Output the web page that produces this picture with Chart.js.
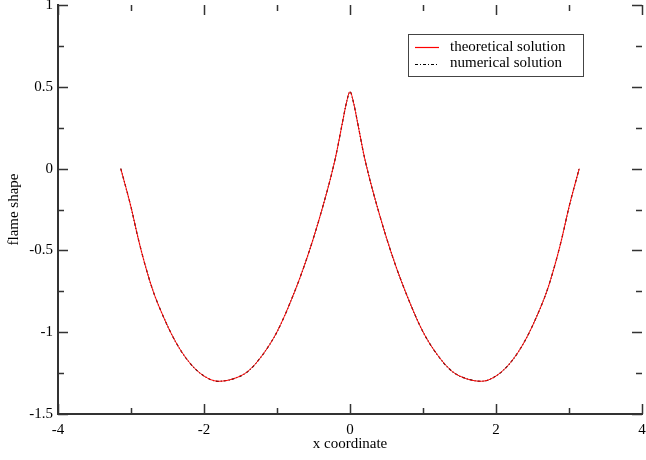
<!DOCTYPE html>
<html>
<head>
<meta charset="utf-8">
<script src="https://cdn.jsdelivr.net/npm/chart.js@4"></script>
<style>
  html, body { margin: 0; padding: 0; background: #fff; }
  #wrap { width: 646px; height: 460px; }
</style>
</head>
<body>
<div id="wrap"><canvas id="flame"></canvas></div>
<script>
// x positions and flame shape values
const xCoords = [-3.14, -3.0, -2.9, -2.8, -2.7, -2.6, -2.4, -2.2, -2.0, -1.8, -1.6, -1.4, -1.2, -1.0, -0.8, -0.6, -0.4, -0.2, -0.1, -0.05, 0,
                 0.05, 0.1, 0.2, 0.4, 0.6, 0.8, 1.0, 1.2, 1.4, 1.6, 1.8, 2.0, 2.2, 2.4, 2.6, 2.7, 2.8, 2.9, 3.0, 3.14];
const theoretical = [0, -0.235, -0.43, -0.60, -0.745, -0.86, -1.05, -1.185, -1.268, -1.30, -1.285, -1.24, -1.14, -0.998, -0.798, -0.56, -0.275, 0.065, 0.29, 0.40, 0.47,
                     0.40, 0.29, 0.065, -0.275, -0.56, -0.798, -0.998, -1.14, -1.24, -1.285, -1.30, -1.268, -1.185, -1.05, -0.86, -0.745, -0.60, -0.43, -0.235, 0];
const numerical = [0, -0.235, -0.43, -0.60, -0.745, -0.86, -1.05, -1.185, -1.268, -1.30, -1.285, -1.24, -1.14, -0.998, -0.798, -0.56, -0.275, 0.065, 0.29, 0.40, 0.47,
                   0.40, 0.29, 0.065, -0.275, -0.56, -0.798, -0.998, -1.14, -1.24, -1.285, -1.30, -1.268, -1.185, -1.05, -0.86, -0.745, -0.60, -0.43, -0.235, 0];
const xTicks = [-4, -2, 0, 2, 4];
const yTicks = [-1.5, -1, -0.5, 0, 0.5, 1];
const xMinor = [-3, -1, 1, 3];
const yMinor = [-1.25, -0.75, -0.25, 0.25, 0.75];
const seriesNames = ["theoretical solution", "numerical solution"];

const FONT = "'Liberation Serif', 'Times New Roman', serif";
const AXIS = "#333";

const pts = ys => xCoords.map((x, i) => ({ x: x, y: ys[i] }));

// inward ticks on all four sides, like the original plot
const innerTicks = {
  id: "innerTicks",
  afterDatasetsDraw(chart) {
    const { ctx, chartArea: a, scales: { x, y } } = chart;
    ctx.save();
    ctx.strokeStyle = AXIS;
    ctx.lineWidth = 1.5;
    const tickX = (v, len) => {
      const px = Math.round(x.getPixelForValue(v)) + 0.5;
      ctx.beginPath();
      ctx.moveTo(px, a.bottom); ctx.lineTo(px, a.bottom - len);
      ctx.moveTo(px, a.top); ctx.lineTo(px, a.top + len);
      ctx.stroke();
    };
    const tickY = (v, len) => {
      const py = Math.round(y.getPixelForValue(v)) + 0.5;
      ctx.beginPath();
      ctx.moveTo(a.left, py); ctx.lineTo(a.left + len, py);
      ctx.moveTo(a.right, py); ctx.lineTo(a.right - len, py);
      ctx.stroke();
    };
    xTicks.forEach(v => tickX(v, 10));
    xMinor.forEach(v => tickX(v, 6));
    yTicks.forEach(v => tickY(v, 10));
    yMinor.forEach(v => tickY(v, 6));

    // legend box
    const bx = 408, by = 34, bw = 175, bh = 42;
    ctx.fillStyle = "#fff";
    ctx.fillRect(bx, by, bw, bh);
    ctx.strokeStyle = "#444";
    ctx.lineWidth = 1;
    ctx.strokeRect(bx + 0.5, by + 0.5, bw, bh);
    const rows = [
      { label: seriesNames[0], color: "#ff0000", dash: [] },
      { label: seriesNames[1], color: "#000000", dash: [3, 2, 1, 2] }
    ];
    ctx.font = "15px " + FONT;
    ctx.textBaseline = "middle";
    rows.forEach((r, i) => {
      const ry = by + 13 + i * 16.5;
      ctx.beginPath();
      ctx.setLineDash(r.dash);
      ctx.strokeStyle = r.color;
      ctx.lineWidth = 1.2;
      ctx.moveTo(bx + 7, Math.round(ry) + 0.5); ctx.lineTo(bx + 31, Math.round(ry) + 0.5);
      ctx.stroke();
      ctx.setLineDash([]);
      ctx.fillStyle = "#000";
      ctx.fillText(r.label, bx + 42, ry);
    });
    ctx.restore();
  }
};

new Chart(document.getElementById("flame"), {
  type: "scatter",
  data: {
    datasets: [
      {
        label: seriesNames[0],
        data: pts(theoretical),
        showLine: true,
        borderColor: "#ff0000",
        borderWidth: 1,
        pointRadius: 0,
        cubicInterpolationMode: "monotone"
      },
      {
        label: seriesNames[1],
        data: pts(numerical),
        showLine: true,
        borderColor: "#000",
        borderWidth: 1.2,
        borderDash: [3, 2, 1, 2],
        pointRadius: 0,
        cubicInterpolationMode: "monotone"
      }
    ]
  },
  options: {
    responsive: true,
    maintainAspectRatio: false,
    animation: false,
    layout: { padding: { top: 5, right: 4, left: 0, bottom: 0 } },
    plugins: { legend: { display: false }, tooltip: { enabled: false } },
    scales: {
      x: {
        type: "linear",
        min: -4, max: 4,
        afterBuildTicks: s => { s.ticks = xTicks.map(v => ({ value: v })); },
        afterFit: s => { s.height = 46; s.paddingLeft = 0; s.paddingRight = 0; },
        grid: { display: false, drawTicks: false },
        border: { display: true, color: AXIS, width: 2 },
        ticks: { color: "#000", padding: 7, maxRotation: 0, font: { family: FONT, size: 15 }, callback: v => String(v) },
        title: { display: true, text: "x coordinate", color: "#000", padding: { top: 0, bottom: 7 }, font: { family: FONT, size: 15 } }
      },
      y: {
        type: "linear",
        min: -1.5, max: 1,
        afterBuildTicks: s => { s.ticks = yTicks.map(v => ({ value: v })); },
        afterFit: s => { s.width = 58; s.paddingTop = 0; s.paddingBottom = 0; },
        grid: { display: false, drawTicks: false },
        border: { display: true, color: AXIS, width: 2 },
        ticks: { color: "#000", padding: 5, font: { family: FONT, size: 15 }, callback: v => String(v) },
        title: { display: true, text: "flame shape", color: "#000", padding: { top: 5, bottom: 0 }, font: { family: FONT, size: 15 } }
      }
    }
  },
  plugins: [innerTicks]
});
</script>
</body>
</html>
